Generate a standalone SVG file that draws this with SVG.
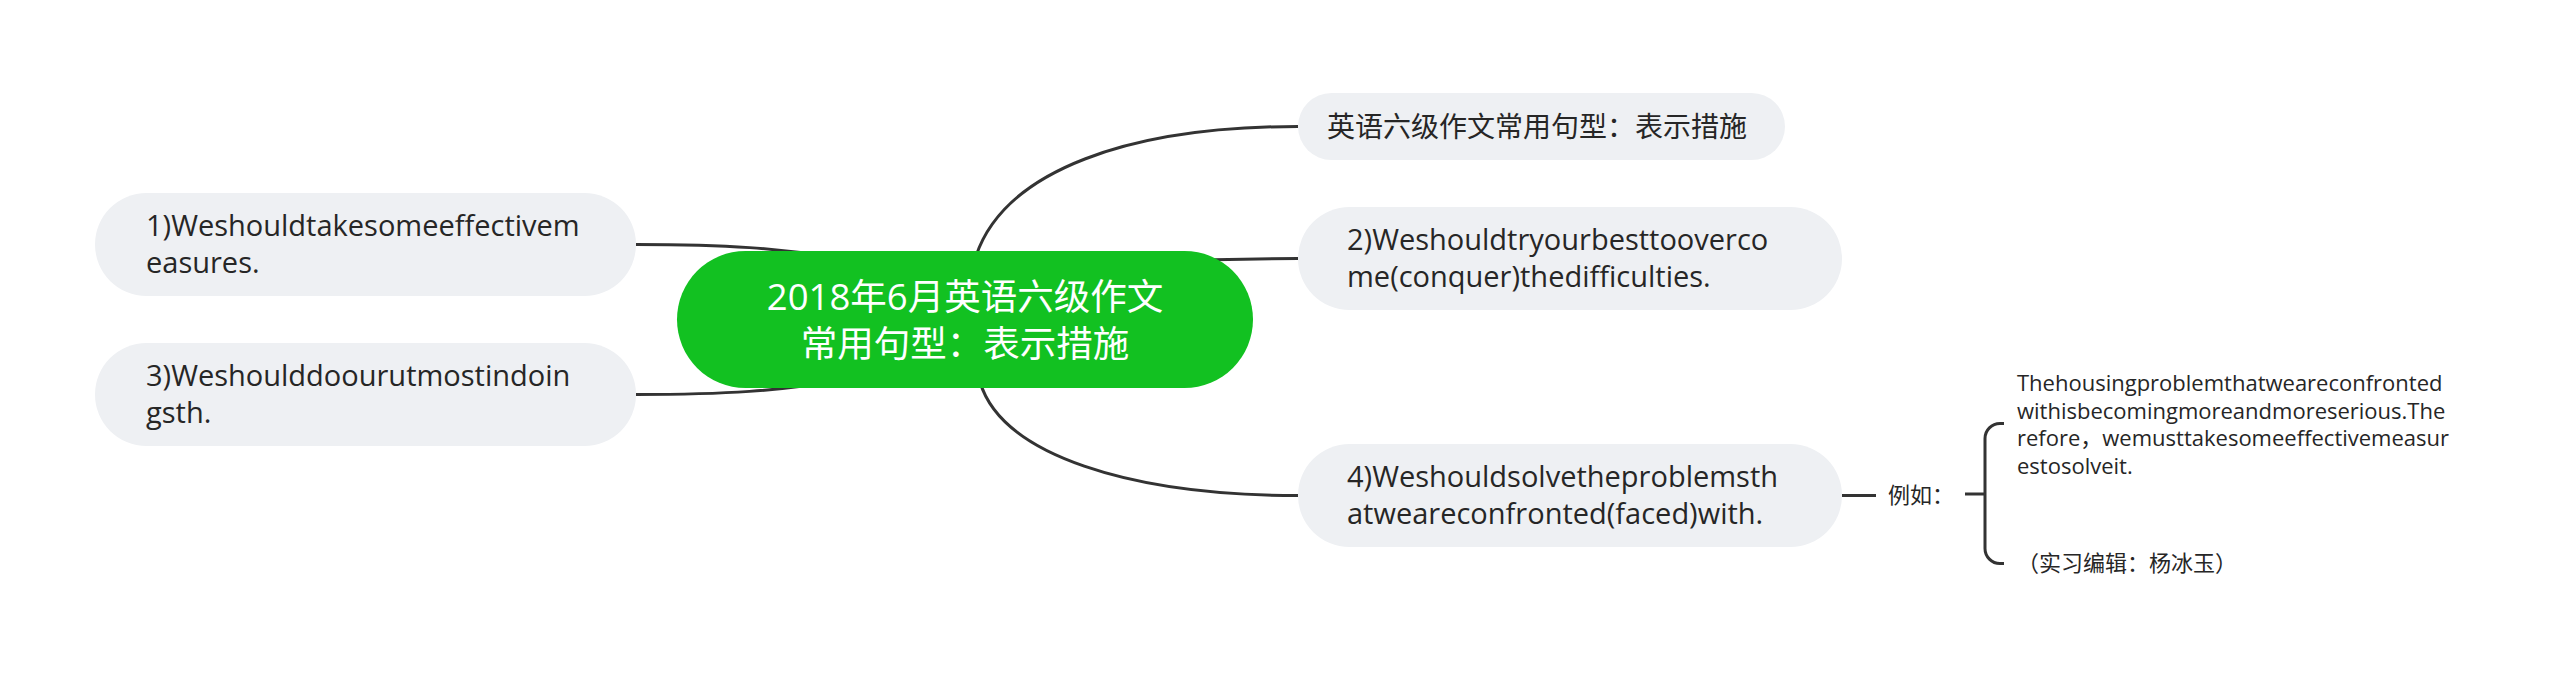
<svg xmlns="http://www.w3.org/2000/svg" width="2560" height="683" viewBox="0 0 2560 683">
<style>
.bg{fill:#ffffff}
.node{fill:#eef0f3}
.root{fill:#12c121}
.t{font-family:"Open Sans","Noto Sans CJK SC",sans-serif;fill:#262626}
.n{font-size:29px}
.s{font-size:22px}
.rt{font-family:"Open Sans","Noto Sans CJK SC",sans-serif;font-size:36.5px;fill:#ffffff;text-anchor:middle}
.ln{fill:none;stroke:#333333;stroke-width:3;stroke-linecap:butt}
</style>
<rect class="bg" x="0" y="0" width="2560" height="683"/>
<g id="connectors">
<path class="ln" d="M 636 244.5 C 720 244.5 780 247 860 262"/>
<path class="ln" d="M 636 394.5 C 720 394.5 780 392 860 377"/>
<path class="ln" d="M 976 256 C 1005 170 1130 126.5 1298 126.5"/>
<path class="ln" d="M 1150 262 C 1220 259 1250 258.5 1298 258.5"/>
<path class="ln" d="M 980 382 C 1002 455 1130 495.5 1298 495.5"/>
<path class="ln" d="M 1842 495.5 H 1876"/>
<path class="ln" d="M 1965 494 H 1985"/>
<path class="ln" d="M 2004 423.5 H 2000 A 15 15 0 0 0 1985 438.5 V 548.5 A 15 15 0 0 0 2000 563.5 H 2004"/>
</g>
<g id="root">
<rect class="root" x="677" y="251" width="576" height="137" rx="68.5"/>
<text class="rt" x="965" y="310">2018年6月英语六级作文</text>
<text class="rt" x="965" y="357">常用句型：表示措施</text>
</g>
<g id="node-top">
<rect class="node" x="1298" y="93" width="487" height="67" rx="33.5"/>
<text class="t" x="1327" y="137" font-size="28">英语六级作文常用句型：表示措施</text>
</g>
<g id="node-1">
<rect class="node" x="95" y="193" width="541" height="103" rx="51.5"/>
<text class="t n" x="146" y="236">1)Weshouldtakesomeeffectivem</text>
<text class="t n" x="146" y="273">easures.</text>
</g>
<g id="node-3">
<rect class="node" x="95" y="343" width="541" height="103" rx="51.5"/>
<text class="t n" x="146" y="386">3)Weshoulddoourutmostindoin</text>
<text class="t n" x="146" y="423">gsth.</text>
</g>
<g id="node-2">
<rect class="node" x="1298" y="207" width="544" height="103" rx="51.5"/>
<text class="t n" x="1347" y="250">2)Weshouldtryourbesttooverco</text>
<text class="t n" x="1347" y="287">me(conquer)thedifficulties.</text>
</g>
<g id="node-4">
<rect class="node" x="1298" y="444" width="544" height="103" rx="51.5"/>
<text class="t n" x="1347" y="487">4)Weshouldsolvetheproblemsth</text>
<text class="t n" x="1347" y="524">atweareconfronted(faced)with.</text>
</g>
<g id="label-eg">
<text class="t s" x="1888" y="503">例如：</text>
</g>
<g id="node-example">
<text class="t s" x="2017" y="391">Thehousingproblemthatweareconfronted</text>
<text class="t s" x="2017" y="418.5">withisbecomingmoreandmoreserious.The</text>
<text class="t s" x="2017" y="446">refore，wemusttakesomeeffectivemeasur</text>
<text class="t s" x="2017" y="473.5">estosolveit.</text>
</g>
<g id="node-editor">
<text class="t s" x="2017" y="571">（实习编辑：杨冰玉）</text>
</g>
</svg>
